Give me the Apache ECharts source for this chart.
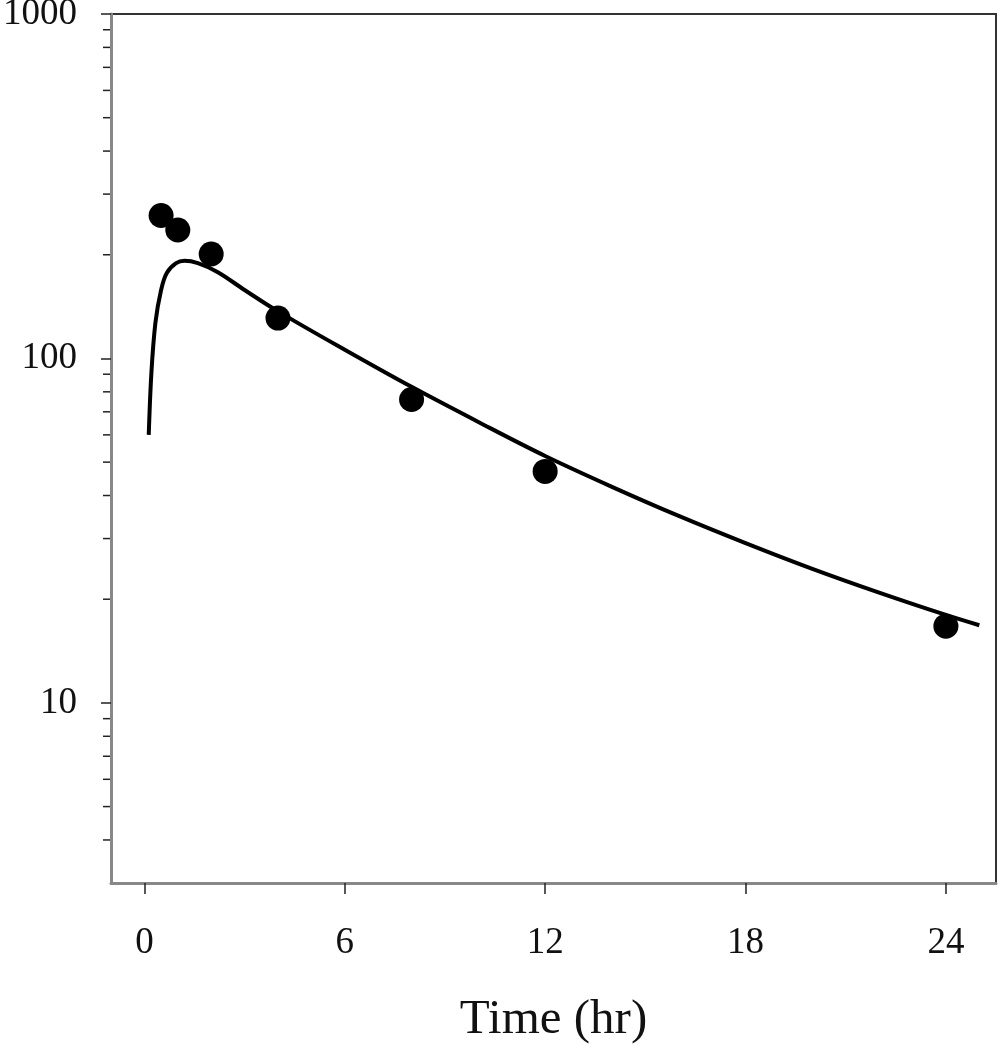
<!DOCTYPE html>
<html>
<head>
<meta charset="utf-8">
<script src="https://cdn.jsdelivr.net/npm/echarts@6/dist/echarts.min.js"></script>
<style>html,body{margin:0;padding:0;background:#fff;}#c{width:998px;height:1050px;}</style>
</head>
<body>
<div id="c"></div>
<script>
// Observed concentrations
var obsTime = [0.5, 1, 2, 4, 8, 12, 24];
var obsConc = [260, 236, 201, 131, 76, 47, 16.7];
// Fitted curve
var fitTime = [0.13, 0.21, 0.33, 0.5, 0.67, 0.95, 1.2, 1.6, 2.2, 3, 4, 6, 8, 10, 12, 14, 16, 18, 20, 22, 24, 25];
var fitConc = [60, 91, 127, 158, 177, 189, 192, 189, 178, 158, 137, 106, 82.7, 65.4, 52.1, 42.4, 34.9, 29.1, 24.5, 20.9, 18.0, 16.8];
// Tick labels
var xTicks = [0, 6, 12, 18, 24];
var yTicks = [10, 100, 1000];
var yMinor = [4, 5, 6, 7, 8, 9, 20, 30, 40, 50, 60, 70, 80, 90, 200, 300, 400, 500, 600, 700, 800, 900];

var font = '"Liberation Serif", "Times New Roman", serif';
var chart = echarts.init(document.getElementById('c'));
chart.setOption({
  animation: false,
  backgroundColor: '#fff',
  grid: {left: 111, right: 2, top: 14, bottom: 167, outerBoundsMode: 'none', containLabel: false,
         show: true, borderColor: '#333', borderWidth: 2, backgroundColor: 'transparent'},
  xAxis: {
    type: 'value', min: -1, max: 25.5,
    splitLine: {show: false},
    axisLine: {show: true, onZero: false, lineStyle: {color: '#888', width: 3}},
    axisTick: {show: true, length: 11, customValues: xTicks, lineStyle: {color: '#222', width: 1.5}},
    axisLabel: {customValues: xTicks, margin: 42, fontFamily: font, fontSize: 37, color: '#111',
                formatter: function (v) { return String(v); }},
    name: 'Time (hr)', nameLocation: 'middle', nameGap: 113,
    nameTextStyle: {fontFamily: font, fontSize: 49, color: '#111'}
  },
  yAxis: {
    type: 'log', logBase: 10, min: 3, max: 1000,
    splitLine: {show: false},
    axisLine: {show: true, onZero: false, lineStyle: {color: '#888', width: 3}},
    axisTick: {show: true, length: 10, customValues: yTicks, lineStyle: {color: '#222', width: 1.5}},
    axisLabel: {customValues: yTicks, margin: 34, fontFamily: font, fontSize: 37, color: '#111',
                formatter: function (v) { return String(Math.round(v)); }}
  },
  series: [
    {
      type: 'custom',
      silent: true,
      clip: false,
      data: yMinor.map(function (v) { return [-1, v]; }),
      renderItem: function (params, api) {
        var p = api.coord([api.value(0), api.value(1)]);
        return {type: 'line', shape: {x1: p[0] - 8, y1: p[1], x2: p[0] - 1, y2: p[1]}, style: {stroke: '#222', lineWidth: 1.5}};
      },
      z: 1
    },
    {
      type: 'line',
      data: fitTime.map(function (t, i) { return [t, fitConc[i]]; }),
      smooth: 0.35,
      showSymbol: false,
      lineStyle: {color: '#000', width: 4},
      z: 2
    },
    {
      type: 'scatter',
      data: obsTime.map(function (t, i) { return [t, obsConc[i]]; }),
      symbol: 'circle',
      symbolSize: 25,
      itemStyle: {color: '#000', opacity: 1},
      z: 3
    }
  ]
});
</script>
</body>
</html>
